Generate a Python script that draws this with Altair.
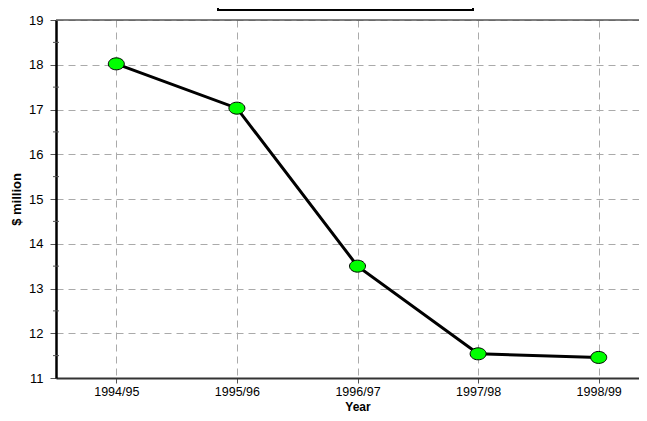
import altair as alt
import pandas as pd

years = ["1994/95", "1995/96", "1996/97", "1997/98", "1998/99"]
values = [18.02, 17.03, 13.5, 11.54, 11.46]
y_ticks = [11, 12, 13, 14, 15, 16, 17, 18, 19]
minor_ticks = [11.5, 12.5, 13.5, 14.5, 15.5, 16.5, 17.5, 18.5]

df = pd.DataFrame({"i": list(range(len(years))), "Year": years, "value": values})

ellipse = "M-1,0 A1,0.75 0 1,0 1,0 A1,0.75 0 1,0 -1,0 Z"
label_expr = "[" + ",".join("'" + y + "'" for y in years) + "][datum.value]"

xs = alt.Scale(domain=[-0.5, 4.334], nice=False, zero=False)
ys = alt.Scale(domain=[11, 19], nice=False, zero=False)

x_enc = alt.X("i:Q", scale=xs, title="Year",
              axis=alt.Axis(values=list(range(len(years))), labelExpr=label_expr,
                            labelAngle=0, tickSize=5, tickColor="#555",
                            domainColor="#333", domainWidth=2, grid=True,
                            gridDash=[7, 5], gridColor="#aaa",
                            labelFontSize=12.5, labelPadding=2, labelFlush=False,
                            labelOverlap=False,
                            titleFontSize=12, titleFontWeight=900,
                            titleBaseline="alphabetic", titleY=32, titleX=301.5))
y_enc = alt.Y("value:Q", scale=ys, title="$ million",
              axis=alt.Axis(values=y_ticks, tickSize=6, tickColor="#555",
                            domainColor="black", domainWidth=2.5,
                            gridDash=[7, 5], gridColor="#aaa",
                            labelFontSize=13, labelPadding=7,
                            titleFontSize=13, titleFontWeight=900,
                            titlePadding=5))

line = alt.Chart(df).mark_line(color="black", strokeWidth=3).encode(x=x_enc, y=y_enc)
pts = alt.Chart(df).mark_point(shape=ellipse, filled=True, fill="#00ff00",
                               stroke="black", strokeWidth=1, size=256, opacity=1).encode(
    x="i:Q", y="value:Q")

top = alt.Chart(pd.DataFrame({"v": [19]})).mark_rule(color="#555", strokeWidth=1.5).encode(
    y=alt.Y("v:Q"))
minor = alt.Chart(pd.DataFrame({"m": minor_ticks})).mark_rule(color="#555", strokeWidth=1).encode(
    y=alt.Y("m:Q"), x=alt.value(-3), x2=alt.value(3))
box = alt.Chart(pd.DataFrame({"b": [0]})).mark_rect(fill="white", stroke="black", strokeWidth=2).encode(
    x=alt.value(162), x2=alt.value(417), y=alt.value(-40), y2=alt.value(-10))

chart = alt.layer(top, line, pts, minor, box).properties(
    width=583, height=358,
    autosize=alt.AutoSizeParams(type="none"),
    padding={"left": 48, "top": 12, "right": 0, "bottom": 35},
).configure_view(stroke="transparent").configure_axis(
    labelFont="Liberation Sans", titleFont="Liberation Sans", labelColor="black", titleColor="black"
)

chart.save("out.html", embed_options={"renderer": "svg", "actions": False})
